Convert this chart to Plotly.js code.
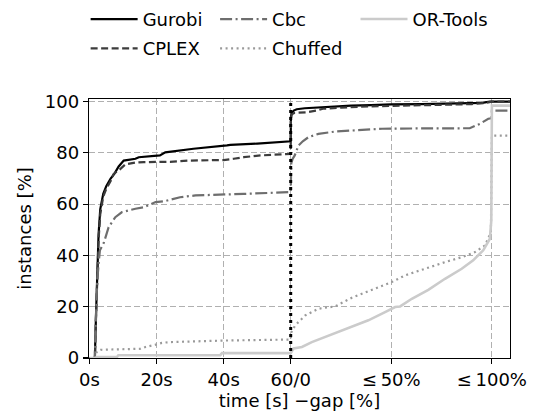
<!DOCTYPE html>
<html>
<head>
<meta charset="utf-8">
<script src="https://cdn.plot.ly/plotly-3.0.1.min.js"></script>
<style>html,body{margin:0;padding:0;background:#fff;}#chart{width:533px;height:416px;}</style>
</head>
<body>
<div id="chart"></div>
<script>
// ---- data (time part: seconds 0..60; gap part: % 0..100; tail: value beyond the 100% mark)
const timeLimit = 60;
const gapScale = 0.6;          // 100 % of gap spans 60 axis units
const tailGap = 110;           // continuation past "≤100%" (clipped at the right edge)

const gurobiTime  = [0, 1.6, 1.9, 2.3, 2.7, 3.2, 4.1, 5, 6.3, 7.5, 8.7, 10.2, 12, 13.7, 14.7, 21, 22.6, 31, 41, 42, 50, 59.9];
const gurobiTimeY = [0, 0, 15, 35, 48, 58, 64, 67, 70, 72, 74.7, 77, 77.3, 77.7, 78.3, 79, 80.2, 81.6, 82.9, 83.1, 83.6, 84.5];
const gurobiGap   = [0, 0.1, 0.5, 1.5, 3, 7, 15, 22, 30, 40, 50, 65, 80, 95, 99];
const gurobiGapY  = [84.5, 94, 95.5, 96.5, 97, 97.4, 97.8, 98, 98.4, 98.6, 98.9, 99, 99.2, 99.5, 100];
const gurobiTail  = 100;

const cplexTime  = [0, 1.6, 1.9, 2.3, 2.7, 3.2, 4.1, 5, 6.3, 7.2, 9, 10.7, 13.7, 16.2, 24, 30, 40, 43, 46, 51, 59.9];
const cplexTimeY = [0, 0, 14, 33, 46, 56, 63, 66, 69, 71.8, 73.5, 75.5, 76.2, 76.4, 76.5, 77, 77.2, 77.7, 78.3, 79, 79.6];
const cplexGap   = [0, 0.1, 0.5, 2, 8, 13, 16, 25, 35, 50, 70, 90, 97, 99.5];
const cplexGapY  = [79.6, 93, 95, 95.6, 95.8, 96.5, 97.2, 97.6, 98, 98.3, 98.6, 99, 99.5, 100];
const cplexTail  = 100;

const cbcTime  = [0, 1.6, 1.9, 2.3, 2.8, 3.1, 4.3, 5.7, 7.7, 9.7, 13.7, 16.2, 19.7, 22.6, 27, 31.6, 46, 59.9];
const cbcTimeY = [0, 0, 15, 30, 38, 42, 45, 51, 54.9, 56.9, 58.2, 58.8, 60.8, 61.2, 62.7, 63.4, 64, 64.7];
const cbcGap   = [0, 0.3, 1, 2, 3.9, 6, 8.8, 13.8, 22, 30.4, 45.4, 60, 75, 89, 94, 98.2, 99.8];
const cbcGapY  = [64.7, 76, 77.7, 79, 82.9, 84.5, 86.1, 87.4, 88.3, 88.7, 89.4, 89.5, 89.5, 89.6, 91.3, 93.3, 93.5];
const cbcTail  = 96.5;

const chuffedTime  = [0, 1.8, 2.2, 3.3, 15.2, 16.7, 19.7, 21.6, 24, 40, 59.9];
const chuffedTimeY = [0, 0, 2.5, 3.2, 3.6, 4.3, 5.2, 5.9, 6.2, 6.8, 7.2];
const chuffedGap   = [0, 0.3, 2.2, 7.2, 13.8, 17, 22, 30.4, 38.6, 50.2, 56.8, 68.4, 76.7, 85, 91.6, 96.6, 99.5];
const chuffedGapY  = [7.2, 10, 12.7, 16.6, 19.2, 19.6, 20.1, 23.5, 26.1, 29.6, 32.2, 35.4, 37.4, 39.3, 41.3, 43.9, 49];
const chuffedTail  = 86.7;

const ortoolsTime  = [0, 1.8, 2.2, 8.2, 8.6, 39, 39.5, 59.9];
const ortoolsTimeY = [0, 0, 0.4, 0.4, 1.1, 1.1, 1.9, 1.9];
const ortoolsGap   = [0, 1.4, 5.6, 10.5, 17.1, 23.7, 30.4, 38.6, 46.9, 51.9, 54.4, 60.2, 68.4, 76.7, 85, 90.7, 95.7, 99, 99.7];
const ortoolsGapY  = [1.9, 3.7, 4.3, 6.2, 8.2, 10.1, 12.1, 14.7, 17.9, 19.9, 20.1, 23.1, 26.6, 30.9, 34.8, 38.1, 42, 46.5, 53.6];
const ortoolsTail  = 98.4;

const tickVals  = [0, 20, 40, 60, 90, 120];
const tickTexts = ['0s', '20s', '40s', '60/0', '≤\u200950%', '≤\u2009100%'];
const yTicks    = [0, 20, 40, 60, 80, 100];

// ---- build traces
function series(t, ty, g, gy, tail) {
  const x = t.slice(), y = ty.slice();
  g.forEach((v, i) => { x.push(timeLimit + gapScale * v); y.push(gy[i]); });
  x.push(timeLimit + gapScale * 100); y.push(tail);       // jump at the 100 % mark
  x.push(timeLimit + gapScale * tailGap); y.push(tail);   // flat continuation
  return {x, y};
}
const FONT = 'DejaVu Sans, Verdana, sans-serif';
function tr(name, s, color, width, dash, legend) {
  return {type: 'scatter', mode: 'lines', name, x: s.x, y: s.y, legend, legendgroup: name,
          line: {color, width, dash}, hoverinfo: 'skip'};
}
const traces = [
  tr('Gurobi',   series(gurobiTime, gurobiTimeY, gurobiGap, gurobiGapY, gurobiTail), '#000000', 2.2, 'solid', 'legend'),
  tr('CPLEX',    series(cplexTime, cplexTimeY, cplexGap, cplexGapY, cplexTail), '#3c3c3c', 2.2, '7px,3.5px', 'legend'),
  tr('Cbc',      series(cbcTime, cbcTimeY, cbcGap, cbcGapY, cbcTail), '#6e6e6e', 2.2, '12px,3.5px,2px,3.5px', 'legend2'),
  tr('Chuffed',  series(chuffedTime, chuffedTimeY, chuffedGap, chuffedGapY, chuffedTail), '#9a9a9a', 2.2, '2px,3.5px', 'legend2'),
  tr('OR-Tools', series(ortoolsTime, ortoolsTimeY, ortoolsGap, ortoolsGapY, ortoolsTail), '#cbcbcb', 2.6, 'solid', 'legend3')
];

const legendBase = {orientation: 'v', yanchor: 'top', xanchor: 'left', y: 1.379,
  font: {family: FONT, size: 18, color: '#000'}, bgcolor: 'rgba(0,0,0,0)', borderwidth: 0,
  itemwidth: 47, tracegroupgap: 3, traceorder: 'grouped'};

const axisBase = {showline: true, mirror: true, linecolor: '#000', linewidth: 1.2,
  ticks: 'outside', ticklen: 5, tickwidth: 1.2, tickcolor: '#000',
  showgrid: true, gridcolor: '#b0b0b0', gridwidth: 1, griddash: '6px,3px',
  zeroline: false, tickfont: {family: FONT, size: 18, color: '#000'}};

const layout = {
  width: 533, height: 416,
  margin: {l: 88.5, r: 23, t: 98.5, b: 58, pad: 0, autoexpand: false},
  paper_bgcolor: '#fff', plot_bgcolor: '#fff',
  font: {family: FONT, size: 18, color: '#000'},
  showlegend: true,
  legend:  Object.assign({}, legendBase, {x: -0.008}),
  legend2: Object.assign({}, legendBase, {x: 0.2995}),
  legend3: Object.assign({}, legendBase, {x: 0.633}),
  xaxis: Object.assign({}, axisBase, {range: [-0.15, 125.4], tickmode: 'array',
    tickvals: tickVals, ticktext: tickTexts, automargin: false,
    title: {text: 'time [s] \u2212gap [%]', font: {family: FONT, size: 18, color: '#000'}, standoff: 4}}),
  yaxis: Object.assign({}, axisBase, {range: [0, 101], tickmode: 'array', tickvals: yTicks, automargin: false,
    title: {text: 'instances [%]', font: {family: FONT, size: 18, color: '#000'}, standoff: 8}}),
  shapes: [{type: 'line', layer: 'above', xref: 'x', yref: 'paper', x0: timeLimit, x1: timeLimit, y0: 0, y1: 1,
            line: {color: '#000', width: 3, dash: '3px,4px'}}]
};

Plotly.newPlot('chart', traces, layout, {displayModeBar: false, staticPlot: true});
</script>
</body>
</html>
